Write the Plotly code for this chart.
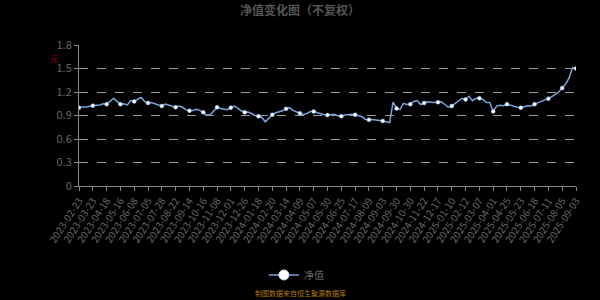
import pandas as pd
import plotly.graph_objects as go

# Tick dates shown on the category x axis
tick_dates = ["2023-02-23", "2023-03-23", "2023-04-18", "2023-05-16", "2023-06-08", "2023-07-05",
              "2023-07-28", "2023-08-22", "2023-09-14", "2023-10-16", "2023-11-08", "2023-12-01",
              "2023-12-26", "2024-01-18", "2024-02-20", "2024-03-14", "2024-04-09", "2024-05-07",
              "2024-05-30", "2024-06-25", "2024-07-17", "2024-08-09", "2024-09-03", "2024-09-30",
              "2024-10-30", "2024-11-22", "2024-12-17", "2025-01-10", "2025-02-12", "2025-03-07",
              "2025-04-01", "2025-04-25", "2025-05-23", "2025-06-18", "2025-07-11", "2025-08-05",
              "2025-09-03"]

# Net value samples (tick date plus three intermediate trading days per interval)
nav_values = [1.00, 1.01, 1.01, 1.02, 1.025, 1.03, 1.035, 1.05, 1.045, 1.08,
              1.12, 1.08, 1.045, 1.05, 1.035, 1.09, 1.08, 1.11, 1.13, 1.08,
              1.06, 1.065, 1.05, 1.035, 1.02, 1.045, 1.03, 1.01, 1.005, 1.02,
              1.005, 0.975, 0.96, 0.965, 0.98, 0.965, 0.94, 0.905, 0.905, 0.96,
              1.005, 0.99, 0.985, 0.975, 1.0, 1.02, 0.995, 0.96, 0.94, 0.945,
              0.925, 0.90, 0.89, 0.875, 0.82, 0.86, 0.91, 0.935, 0.945, 0.96,
              0.985, 1.0, 0.965, 0.945, 0.93, 0.91, 0.925, 0.95, 0.95, 0.935,
              0.92, 0.91, 0.905, 0.91, 0.915, 0.895, 0.89, 0.905, 0.91, 0.915,
              0.91, 0.895, 0.885, 0.85, 0.845, 0.85, 0.845, 0.835, 0.83, 0.82,
              0.81, 1.07, 0.99, 0.975, 1.055, 1.04, 1.045, 1.08, 1.09, 1.04,
              1.06, 1.075, 1.07, 1.065, 1.07, 1.075, 1.04, 1.005, 1.02, 1.055,
              1.08, 1.12, 1.105, 1.145, 1.09, 1.12, 1.12, 1.105, 1.065, 1.065,
              0.95, 1.02, 1.03, 1.025, 1.045, 1.03, 1.02, 1.005, 1.0, 1.01,
              1.025, 1.02, 1.045, 1.065, 1.08, 1.10, 1.115, 1.14, 1.17, 1.20,
              1.25, 1.30, 1.38, 1.51, 1.50]

# Category dates: each tick date followed by three trading days inside the interval
dates = []
for a, b in zip(tick_dates[:-1], tick_dates[1:]):
    bd = pd.bdate_range(a, b)
    n = len(bd) - 1
    picks = [bd[0], bd[round(n / 4)], bd[round(n / 2)], bd[round(3 * n / 4)]]
    dates.extend(d.strftime("%Y-%m-%d") for d in picks)
dates.append(tick_dates[-1])

mark_y = [nav_values[dates.index(d)] for d in tick_dates]

line_color = "#7aa5dc"
grey = "#666666"

fig = go.Figure()
fig.add_trace(go.Scatter(x=dates, y=nav_values, mode="lines",
                         line=dict(color=line_color, width=1.5),
                         showlegend=False, hoverinfo="skip"))
fig.add_trace(go.Scatter(x=tick_dates, y=mark_y, mode="markers",
                         marker=dict(color="white", size=4, line=dict(color=line_color, width=0.5)),
                         showlegend=False))
fig.add_trace(go.Scatter(x=[None], y=[None], mode="lines+markers", name="净值",
                         line=dict(color=line_color, width=1.5),
                         marker=dict(color="white", size=10, line=dict(color="#cfe0f5", width=1))))

fig.update_layout(
    width=600, height=300,
    paper_bgcolor="black", plot_bgcolor="black",
    margin=dict(l=79, r=24, t=45, b=114, autoexpand=False),
    font=dict(family="Noto Sans CJK SC, Noto Sans, sans-serif", color=grey, size=10),
    title=dict(text="<b>净值变化图（不复权）</b>", x=0.5, xanchor="center", y=0.965, yanchor="middle",
               font=dict(size=12, color="#555555")),
    showlegend=True,
    legend=dict(orientation="h", x=0.372, xanchor="left", y=-0.631, yanchor="middle",
                itemwidth=30, font=dict(size=10, color=grey), bgcolor="rgba(0,0,0,0)"),
    xaxis=dict(type="category", categoryorder="array", categoryarray=dates, automargin=False,
               range=[0, len(dates) - 1], tickmode="array", tickvals=tick_dates, ticktext=tick_dates,
               tickangle=-57, showgrid=False, zeroline=False,
               showline=True, linecolor="#888888", linewidth=1,
               ticks="outside", ticklen=4, tickcolor="#888888",
               tickfont=dict(size=10, color=grey)),
    yaxis=dict(range=[0, 1.8], dtick=0.3, tick0=0, showgrid=True, gridcolor="#9a9a9a",
               griddash="dash", gridwidth=1, zeroline=False, automargin=False,
               showline=True, linecolor="#888888", linewidth=1,
               ticks="outside", ticklen=4, tickcolor="#888888",
               tickfont=dict(size=11, color=grey)),
    annotations=[
        dict(text="元", xref="paper", yref="paper", x=-0.05, y=0.905, showarrow=False,
             font=dict(size=8, color="#9a0000"), xanchor="center", yanchor="middle"),
        dict(text="制图数据来自恒生聚源数据库", xref="paper", yref="paper", x=0.445, y=-0.76,
             showarrow=False, font=dict(size=7, color="#b07a10"), xanchor="center", yanchor="middle"),
    ],
)

fig.write_html("out.html")
